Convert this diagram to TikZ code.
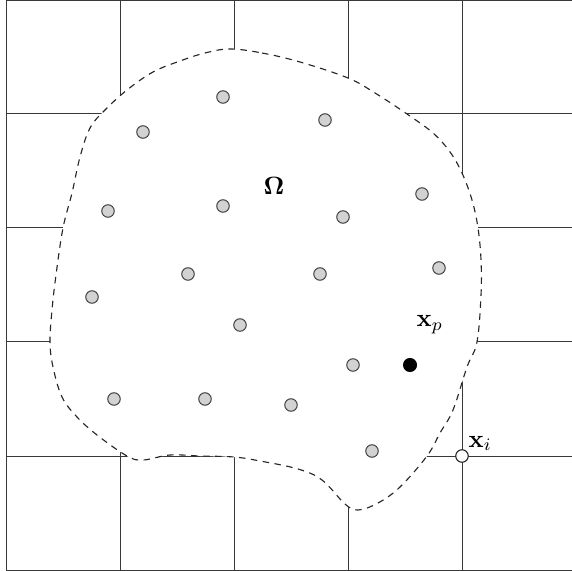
\documentclass[tikz,border=0pt]{standalone}
\usepackage{amsmath}
\begin{document}
\begin{tikzpicture}[x=0.4pt,y=-0.4pt,
  gridline/.style={draw=black!78,line width=0.4pt},
  boundary/.style={draw=black!85,line width=0.45pt,dash pattern=on 2.6pt off 2.2pt,fill=white},
  dot/.style={circle,minimum size=5pt,inner sep=0pt,draw=black!75,line width=0.4pt,fill=gray!35!white},
  blackdot/.style={circle,minimum size=5.2pt,inner sep=0pt,fill=black,draw=black},
  opendot/.style={circle,minimum size=5pt,inner sep=0pt,fill=white,draw=black!85,line width=0.45pt},
  lab/.style={inner sep=0pt,anchor=base west}]
\useasboundingbox (0,0) rectangle (572,571);
\clip (0,0) rectangle (572,571);
% grid
\foreach \x in {6,120,234,348,462}
  \draw[gridline] (\x,0) -- (\x,571);
\foreach \y in {1,114,228,342,456,570}
  \draw[gridline] (6,\y) -- (572,\y);
% domain
\path[boundary] plot[smooth cycle,tension=0.6] coordinates {
 (230,49) (262,53) (300,62) (348,78) (375,93) (407,114) (433,133) (450,152) (462,173)
 (472,200) (478,228) (481,260) (481,295) (477,342) (467,367) (453,410) (440,433)
 (427,456) (400,487) (378,503) (358,510) (345,504) (322,480) (298,469) (260,461)
 (234,457) (200,456) (170,455) (143,460) (127,456) (97,435) (77,417) (62,397) (53,367)
 (50,342) (52,310) (56,275) (63,228) (72,193) (80,157) (90,128) (105,110) (127,90)
 (153,72) (180,61) (205,53)};
% points
\foreach \px/\py [count=\i] in {223/97,143/132,325/120,108/211,223/206,343/217,422/194,
  188/274,320/274,439/268,92/297,240/325,353/365,114/399,205/399,291/405,372/451}
  \node[dot] (d\i) at (\px,\py) {};
\node[blackdot] (xp) at (410,365) {};
\node[opendot] (xi) at (462,456) {};
% labels
\node[lab] (om) at (263,195) {$\boldsymbol{\Omega}$};
\node[lab] (lxp) at (416,327) {$\mathbf{x}_p$};
\node[lab] (lxi) at (468,447) {$\mathbf{x}_i$};
\end{tikzpicture}
\end{document}
